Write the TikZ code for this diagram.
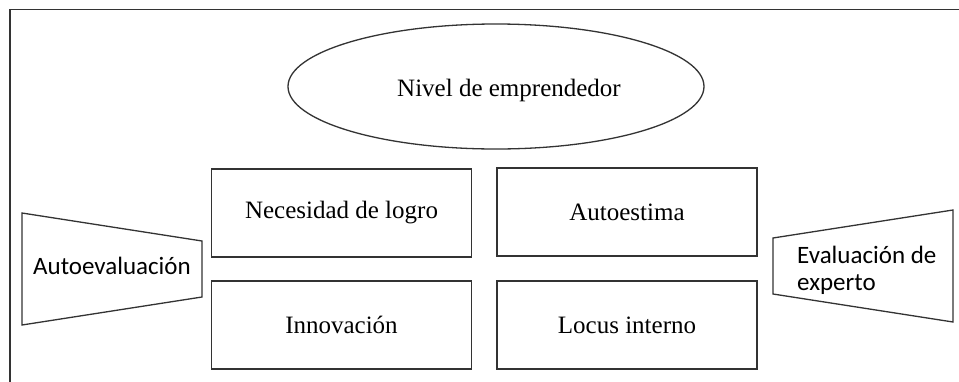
\documentclass[tikz,border=0pt]{standalone}
\usepackage{fontspec}
\setmainfont{Liberation Serif}
\newfontfamily\calib{Carlito}
\usetikzlibrary{shapes.geometric}
\definecolor{linec}{gray}{0.2}
\tikzset{
  boxst/.style={draw=linec, line width=1.3pt, minimum width=260pt, minimum height=88pt, inner sep=0pt, font=\fontsize{25}{30}\selectfont},
  ellst/.style={draw=linec, line width=1.3pt, ellipse, minimum width=416pt, minimum height=125pt, inner sep=0pt},
  trap/.style={draw=linec, line width=1.3pt, line join=miter},
  sertxt/.style={inner sep=0pt, font=\fontsize{25}{30}\selectfont},
  santxt/.style={inner sep=0pt, font=\calib\fontsize{25}{30}\selectfont, align=left}
}
\begin{document}
\begin{tikzpicture}[x=1pt,y=-1pt]
\useasboundingbox (0,0) rectangle (959,381);
\fill[white] (0,0) rectangle (959,381);
\begin{scope}
\clip (0,0) rectangle (959,381);
\draw[draw=linec, line width=1.3pt] (10,395) -- (10,9.5) -- (970,9.5);
\end{scope}
% ellipse
\node[ellst] (ell) at (496,86.5) {};
\node[sertxt] (elltxt) at (509,90) {Nivel de emprendedor};
% boxes
\node[boxst] (nec) at (341.5,213) {Necesidad de logro};
\node[boxst] (aut) at (627,212) {Autoestima};
\node[boxst] (inn) at (341.5,325) {Innovación};
\node[boxst] (loc) at (627,325) {Locus interno};
% left trapezoid
\coordinate (l1) at (22,213);
\coordinate (l2) at (202,241);
\coordinate (l3) at (202,297);
\coordinate (l4) at (22,325);
\draw[trap] (l1) -- (l2) -- (l3) -- (l4) -- cycle;
\node[santxt] (autoev) at (112,266) {Autoevaluación};
% right trapezoid
\coordinate (r1) at (773,238);
\coordinate (r2) at (953,210);
\coordinate (r3) at (953,322);
\coordinate (r4) at (773,294);
\draw[trap] (r1) -- (r2) -- (r3) -- (r4) -- cycle;
\node[santxt, anchor=west] (evexp1) at (797,255) {Evaluación de};
\node[santxt, anchor=west] (evexp2) at (797,285) {experto};
\end{tikzpicture}
\end{document}
